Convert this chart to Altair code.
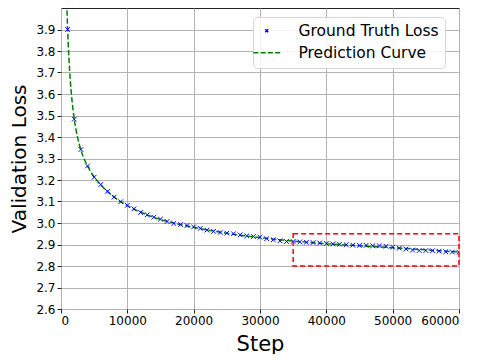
import altair as alt
import pandas as pd

series = ["Ground Truth Loss", "Prediction Curve"]

gt_steps = [1000, 2000, 3000, 4000, 5000, 6000, 7000, 8000, 9000, 10000,
            11000, 12000, 13000, 14000, 15000, 16000, 17000, 18000, 19000, 20000,
            21000, 22000, 23000, 24000, 25000, 26000, 27000, 28000, 29000, 30000,
            31000, 32000, 33000, 34000, 35000, 36000, 37000, 38000, 39000, 40000,
            41000, 42000, 43000, 44000, 45000, 46000, 47000, 48000, 49000, 50000,
            51000, 52000, 53000, 54000, 55000, 56000, 57000, 58000, 59000, 60000]
gt_loss = [3.900, 3.483, 3.342, 3.265, 3.213, 3.179, 3.147, 3.120, 3.099, 3.082,
           3.066, 3.049, 3.038, 3.027, 3.018, 3.007, 2.998, 2.993, 2.988, 2.982,
           2.975, 2.967, 2.961, 2.956, 2.953, 2.950, 2.945, 2.940, 2.937, 2.934,
           2.927, 2.922, 2.917, 2.914, 2.914, 2.912, 2.910, 2.909, 2.907, 2.905,
           2.903, 2.901, 2.899, 2.897, 2.896, 2.896, 2.894, 2.894, 2.892, 2.888,
           2.883, 2.879, 2.874, 2.872, 2.872, 2.871, 2.869, 2.866, 2.865, 2.864]

curve_steps = [800, 1000, 1100, 1300, 1550, 2000, 2500, 3000, 4000, 5000, 6000,
               7000, 8000, 10000, 12500, 15000, 17500, 20000, 25000, 30000,
               35000, 40000, 45000, 50000, 55000, 60000]
curve_loss = [4.10, 3.90, 3.826, 3.709, 3.606, 3.483, 3.398, 3.340, 3.265, 3.214, 3.177,
              3.147, 3.121, 3.081, 3.044, 3.016, 2.996, 2.980, 2.952, 2.932,
              2.916, 2.904, 2.894, 2.885, 2.875, 2.865]

box_steps = [35000, 60000]
box_loss = [2.80, 2.95]

x_ticks = [0, 10000, 20000, 30000, 40000, 50000, 60000]
y_ticks = [2.6, 2.7, 2.8, 2.9, 3.0, 3.1, 3.2, 3.3, 3.4, 3.5, 3.6, 3.7, 3.8, 3.9]

gt = pd.DataFrame({"step": gt_steps, "loss": gt_loss, "series": series[0]})
cv = pd.DataFrame({"step": curve_steps, "loss": curve_loss})
box = pd.DataFrame({"x": [box_steps[0]], "x2": [box_steps[1]],
                    "y": [box_loss[0]], "y2": [box_loss[1]]})

FONT = "DejaVu Sans"
W, H = 398, 301

x_scale = alt.Scale(domain=[0, 60000], nice=False)
y_scale = alt.Scale(domain=[2.6, 4.0], nice=False, zero=False)

x_axis = alt.Axis(values=x_ticks, format="d", title="Step", titleFontSize=21,
                  titleBaseline="alphabetic", titleY=41, titleFontWeight="normal")
y_axis = alt.Axis(values=y_ticks, format=".1f", title="Validation Loss", titleFontSize=20,
                  titleBaseline="alphabetic", titleX=-36, titleY=H / 2, titleAngle=270,
                  titleFontWeight="normal")

# legend symbols: stroked "x" and a four-dash line (custom paths, scaled by sqrt(size)/2)
cross_path = "M-1,-1L1,1M-1,1L1,-1"
dash_path = "M-9,0L-5.6,0M-4.1,0L-0.7,0M0.7,0L4.1,0M5.6,0L9,0"

legend = alt.Legend(title=None, orient="none", legendX=192, legendY=9,
                    labelFontSize=15.5, labelFont=FONT, labelColor="black",
                    symbolSize=9, symbolStrokeWidth=1.5, labelOffset=24,
                    rowPadding=5, padding=6, strokeColor="#d5d5d5",
                    fillColor="rgba(255,255,255,0.85)", cornerRadius=4)

line = alt.Chart(cv).mark_line(color="green", strokeDash=[5.5, 2.4], strokeWidth=1.5,
                               clip=True, interpolate="monotone").encode(
    x=alt.X("step:Q", scale=x_scale, axis=x_axis),
    y=alt.Y("loss:Q", scale=y_scale, axis=y_axis),
)

points = alt.Chart(gt).mark_point(filled=False, strokeWidth=1, size=22, clip=True, opacity=1).encode(
    x=alt.X("step:Q", scale=x_scale, axis=x_axis),
    y=alt.Y("loss:Q", scale=y_scale, axis=y_axis),
    color=alt.Color("series:N", scale=alt.Scale(domain=series, range=["blue", "green"]),
                    legend=legend),
    shape=alt.Shape("series:N", scale=alt.Scale(domain=series, range=[cross_path, dash_path]),
                    legend=legend),
)

rect = alt.Chart(box).mark_rect(fill="transparent", stroke="red", strokeDash=[5, 3],
                                strokeWidth=1.5).encode(
    x=alt.X("x:Q", scale=x_scale, axis=x_axis),
    x2="x2:Q",
    y=alt.Y("y:Q", scale=y_scale, axis=y_axis),
    y2="y2:Q",
)

chart = alt.layer(line, points, rect).properties(
    width=W, height=H,
    autosize=alt.AutoSizeParams(type="none"),
    padding={"left": 53, "top": 0, "right": 20, "bottom": 45},
).configure_view(
    stroke="#222222", strokeWidth=1
).configure_axis(
    domain=False, grid=True, gridColor="#b3b3b3", gridWidth=1,
    ticks=True, tickColor="#222222", tickSize=4, tickWidth=1,
    labelFont=FONT, labelFontSize=12, labelColor="black", labelPadding=2,
    titleFont=FONT, titleColor="black",
)

chart.save("out.html", embed_options={"renderer": "svg", "actions": False})
